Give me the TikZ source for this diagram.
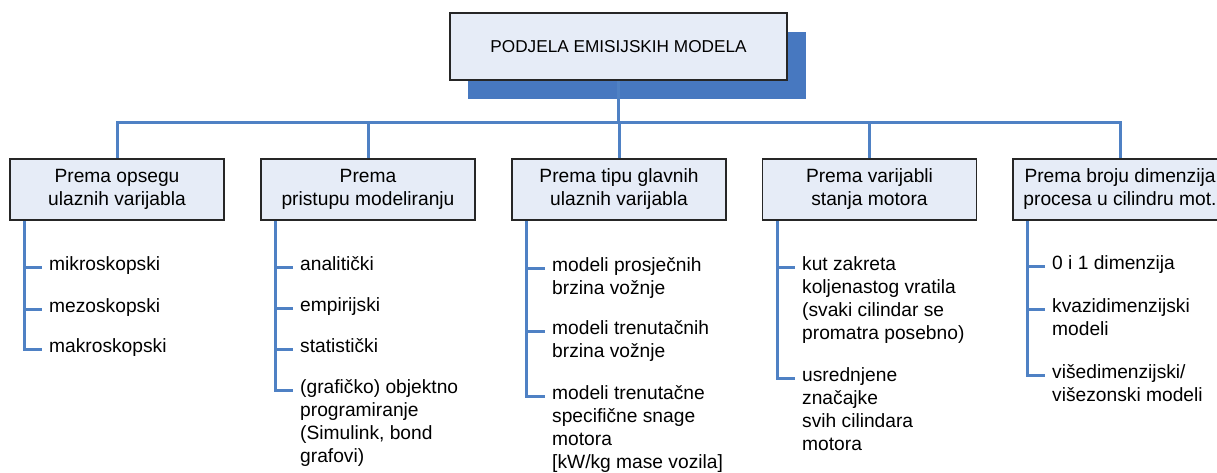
\documentclass[tikz,border=0pt]{standalone}
\usepackage{fontspec}
\setmainfont{Liberation Sans}
\usetikzlibrary{positioning,calc}
\definecolor{shadowblue}{RGB}{71,120,192}
\definecolor{lineblue}{RGB}{79,129,196}
\definecolor{boxfill}{RGB}{230,236,247}
\newcommand{\itemlines}[1]{\begin{tabular}[t]{@{}l@{}}#1\end{tabular}}
\tikzset{
  catbox/.style={draw=black!85,line width=1.5pt,fill=boxfill,minimum width=214pt,
    minimum height=61pt,align=center,inner sep=0pt},
  leaf/.style={anchor=base west,inner xsep=7pt,inner ysep=0pt},
  conn/.style={lineblue,line width=3pt}
}

\begin{document}
\begin{tikzpicture}[x=1pt,y=-1pt,font=\fontsize{19.2}{23}\selectfont]
\useasboundingbox (0,0) rectangle (1217,472);

% Title box with its shadow
\fill[shadowblue] (468,32) rectangle (806,99);
\coordinate (bus) at (618.5,122);
\draw[conn] (618.5,80) -- (bus);
\node[catbox,minimum width=337pt,minimum height=67pt,font=\fontsize{17.2}{20}\selectfont]
  (top) at (618.5,46.5) {PODJELA EMISIJSKIH MODELA};

% Category boxes
\foreach \i/\x/\txt in {1/117/{Prema opsegu\\ulaznih varijabla},
    2/368/{Prema\\pristupu modeliranju},
    3/619/{Prema tipu glavnih\\ulaznih varijabla},
    4/869.5/{Prema varijabli\\stanja motora},
    5/1120/{Prema broju dimenzija\\procesa u cilindru mot.}}
  \node[catbox] (c\i) at (\x,189.5) {\txt};

% Connectors from the title
\draw[conn] (c1.north) -- (c1.north |- bus) -- (c5.north |- bus) -- (c5.north);
\foreach \i in {2,3,4}
  \draw[conn] (c\i.north) -- (c\i.north |- bus);

% Items
\foreach \n/\y/\txt in {a/265/mikroskopski, b/307/mezoskopski, c/347/makroskopski}
  \node[leaf] (c1\n) at (42,\y+5) {\txt};
\foreach \n/\y/\txt in {a/265/analitički, b/306/empirijski, c/347/statistički,
    d/388/{(grafičko) objektno\\programiranje\\(Simulink, bond\\grafovi)}}
  \node[leaf] (c2\n) at (293,\y+5) {\itemlines{\txt}};
\foreach \n/\y/\txt in {a/266/{modeli prosječnih\\brzina vožnje},
    b/329/{modeli trenutačnih\\brzina vožnje},
    c/394/{modeli trenutačne\\specifične snage\\motora\\{[kW/kg mase vozila]}}}
  \node[leaf] (c3\n) at (545,\y+5) {\itemlines{\txt}};
\foreach \n/\y/\txt in {a/265/{kut zakreta\\koljenastog vratila\\(svaki cilindar se\\promatra posebno)},
    b/376/{usrednjene\\značajke\\svih cilindara\\motora}}
  \node[leaf] (c4\n) at (795,\y+5) {\itemlines{\txt}};
\foreach \n/\y/\txt in {a/264/{0 i 1 dimenzija}, b/307/{kvazidimenzijski\\modeli},
    c/373/{višedimenzijski/\\višezonski modeli}}
  \node[leaf] (c5\n) at (1045,\y+5) {\itemlines{\txt}};

% Item connectors
\foreach \i in {1,...,5}
  \coordinate (v\i) at ($(c\i.south west)+(15.5,0)$);
\draw[conn] (v1) |- (c1c.mid west);
\draw[conn] (v2) |- (c2d.mid west);
\draw[conn] (v3) |- (c3c.mid west);
\draw[conn] (v4) |- (c4b.mid west);
\draw[conn] (v5) |- (c5c.mid west);
\foreach \i/\k in {1/1a,1/1b,2/2a,2/2b,2/2c,3/3a,3/3b,4/4a,5/5a,5/5b}
  \draw[conn] (c\k.mid west -| v\i) -- (c\k.mid west);
\end{tikzpicture}
\end{document}
